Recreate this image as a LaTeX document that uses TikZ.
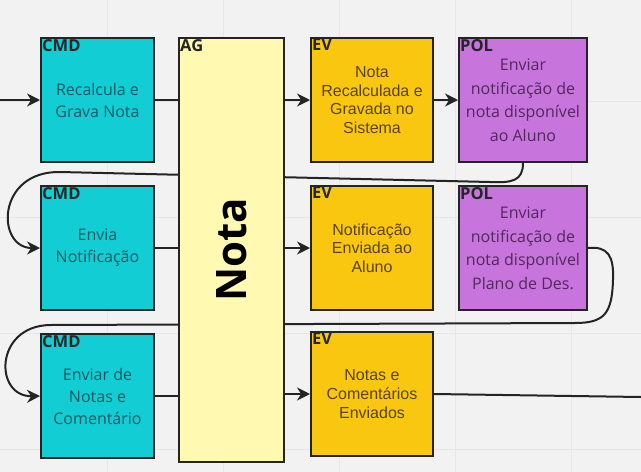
\documentclass[tikz,border=0pt]{standalone}
\usepackage{fontspec}
\setmainfont{Open Sans}
\newfontfamily\arialfont{Liberation Sans}
\usepackage{xcolor}
\usepackage{tikz}
\usetikzlibrary{arrows.meta, positioning, backgrounds}
\definecolor{boardgray}{RGB}{242, 242, 242}
\definecolor{gridgray}{RGB}{230, 230, 230}
\definecolor{edgegray}{RGB}{36, 36, 36}
\definecolor{cmdcyan}{RGB}{18, 205, 212}
\definecolor{cmdtext}{RGB}{22, 88, 98}
\definecolor{evyellow}{RGB}{250, 199, 16}
\definecolor{evtext}{RGB}{88, 68, 10}
\definecolor{polviolet}{RGB}{200, 116, 221}
\definecolor{poltext}{RGB}{82, 40, 94}
\definecolor{agyellow}{RGB}{255, 249, 177}

\begin{document}
\begin{tikzpicture}[
    x=1pt, y=-1pt,
    node distance=22pt,
    card/.style={rectangle, draw=edgegray, line width=2pt, inner sep=0pt,
                 align=center, minimum height=124pt},
    cmd/.style={card, fill=cmdcyan, minimum width=113pt, text=cmdtext,
                font=\fontsize{16}{22}\selectfont,
                label={[anchor=north west, inner sep=2pt, text=black!85,
                        font=\fontsize{16.5}{16}\selectfont\bfseries]north west:CMD}},
    ev/.style={card, fill=evyellow, minimum width=122pt, text=evtext,
               font=\arialfont\fontsize{16}{18.7}\selectfont,
               label={[anchor=north west, inner sep=2pt, text=black!85,
                       font=\fontsize{16.5}{16}\selectfont\bfseries]north west:EV}},
    pol/.style={card, fill=polviolet, minimum width=128pt, text=poltext,
                font=\fontsize{16}{23.5}\selectfont,
                label={[anchor=north west, inner sep=2pt, text=black!85,
                        font=\fontsize{16.5}{16}\selectfont\bfseries]north west:POL}},
    aggregate/.style={card, fill=agyellow, minimum width=105pt, minimum height=424pt,
                      label={[anchor=north west, inner sep=2pt, text=black!85,
                              font=\fontsize{16.5}{16}\selectfont\bfseries]north west:AG}},
    arrow/.style={-{Stealth[length=13pt, width=13pt]}, line width=2pt, draw=edgegray},
    link/.style={line width=2pt, draw=edgegray}
]
\useasboundingbox (0,0) rectangle (641,472);

% Row 1
\node[cmd, anchor=north west] (cmd1) at (40,37) {Recalcula e\\Grava Nota};
\node[aggregate, right=23pt of cmd1.north east, anchor=north west] (ag) {};
\node[rotate=90, font=\fontsize{42}{42}\selectfont\bfseries] (agname) at (ag.center) {Nota};
\node[ev, right=25pt of ag.north east, anchor=north west] (ev1) {Nota\\Recalculada e\\Gravada no\\Sistema};
\node[pol, right=24pt of ev1] (pol1) {Enviar\\notificação de\\nota disponível\\ao Aluno};

% Row 2
\node[cmd, below=of cmd1] (cmd2) {Envia\\Notificação};
\node[ev, below=of ev1] (ev2) {Notificação\\Enviada ao\\Aluno};
\node[pol, below=of pol1] (pol2) {Enviar\\notificação de\\nota disponível\\Plano de Des.};

% Row 3
\node[cmd, below=of cmd2] (cmd3) {Enviar de\\Notas e\\Comentário};
\node[ev, below=20pt of ev2] (ev3) {Notas e\\Comentários\\Enviados};

% Free ends
\coordinate (start) at (0,100);
\coordinate (finish) at (641,397);

% Board and the two return loops
\begin{scope}[on background layer]
  \fill[boardgray] (0,0) rectangle (641,472);
  \foreach \gx in {107.5, 223.5, 339.5, 455.5, 571.5}
    \draw[gridgray, line width=0.8pt] (\gx,0) -- (\gx,472);
  \foreach \gy in {101.5, 217.5, 333.5, 449.5}
    \draw[gridgray, line width=0.8pt] (0,\gy) -- (641,\gy);
  \draw[arrow] (pol1.south) .. controls (523,181) and (512,183) .. (490,182)
    -- (60,172) .. controls (-4,171) and (-4,248) .. (cmd2.west);
  \draw[arrow] (pol2.east) .. controls (608,246) and (614,256) .. (613,280)
    .. controls (612,314) and (604,323) .. (575,323)
    -- (50,325) .. controls (-6,326) and (-6,397) .. (cmd3.west);
\end{scope}

% Arrows
\draw[arrow] (start) -- (cmd1.west);
\draw[link] (cmd1.east) -- (cmd1.east -| ag.west);
\draw[arrow] (ev1.west -| ag.east) -- (ev1.west);
\draw[arrow] (ev1.east) -- (pol1.west);
\draw[link] (cmd2.east) -- (cmd2.east -| ag.west);
\draw[arrow] (ev2.west -| ag.east) -- (ev2.west);
\draw[link] (cmd3.east) -- (cmd3.east -| ag.west);
\draw[arrow] (ev3.west -| ag.east) -- (ev3.west);
\draw[link] (ev3.east) -- (finish);

\end{tikzpicture}
\end{document}
